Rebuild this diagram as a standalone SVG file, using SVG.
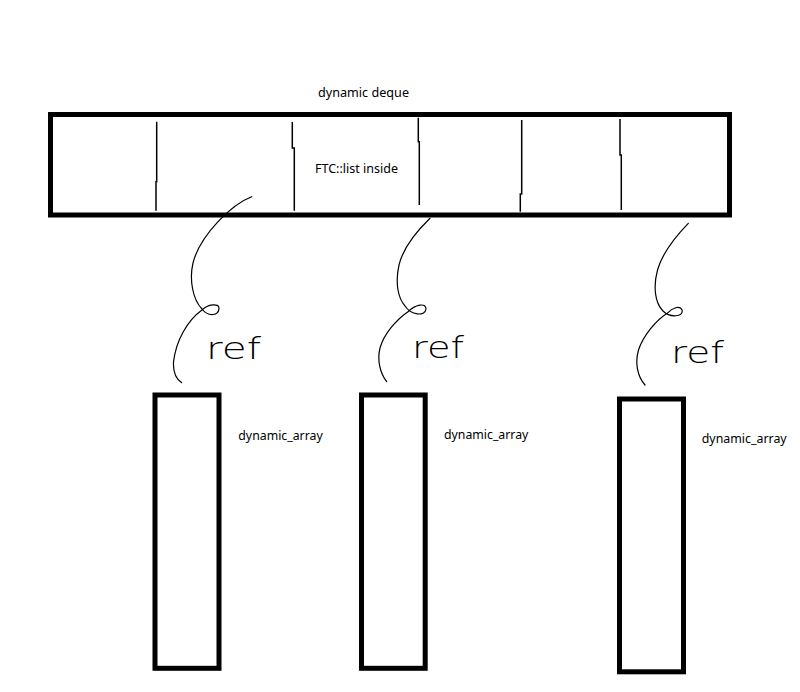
<svg xmlns="http://www.w3.org/2000/svg" width="800" height="692" viewBox="0 0 800 692">
<style>
.box{fill:none;stroke:#000;stroke-width:5}
.div{fill:none;stroke:#000;stroke-width:1.5}
.cur{fill:none;stroke:#000;stroke-width:1.2;stroke-linecap:round;stroke-linejoin:round}
.lbl{font-family:"Noto Sans","Liberation Sans",sans-serif;font-size:12px;fill:#000}
.ref{font-family:"DejaVu Sans",sans-serif;font-weight:200;font-size:30px;fill:#000}
</style>
<rect width="800" height="692" fill="#fff"/>
<g id="deque">
<rect class="box" x="50.5" y="114.5" width="679" height="100.5"/>
<path class="div" d="M156.7,121.7 V181.7 H156 V210.7"/>
<path class="div" d="M292.3,122 V148 H294.3 V210.7"/>
<path class="div" d="M418.3,117.7 V141.7 H419.3 V205"/>
<path class="div" d="M521.7,120 V194 H520.3 V211.7"/>
<path class="div" d="M620,119 V155 H621.3 V210"/>
<text class="lbl" x="318" y="97" textLength="91" lengthAdjust="spacingAndGlyphs">dynamic deque</text>
<text class="lbl" x="315" y="172.7" textLength="83" lengthAdjust="spacingAndGlyphs">FTC::list inside</text>
</g>
<g id="array1">
<rect class="box" x="155" y="395" width="64" height="273.3"/>
<text class="lbl" x="238.3" y="440" textLength="84.4" lengthAdjust="spacingAndGlyphs">dynamic_array</text>
</g>
<g id="array2">
<rect class="box" x="361.5" y="395" width="63.7" height="273.3"/>
<text class="lbl" x="444" y="439.3" textLength="84.3" lengthAdjust="spacingAndGlyphs">dynamic_array</text>
</g>
<g id="array3">
<rect class="box" x="619.5" y="399" width="64" height="272.8"/>
<text class="lbl" x="701.7" y="443" textLength="85" lengthAdjust="spacingAndGlyphs">dynamic_array</text>
</g>
<g id="connectors">
<path class="cur" d="M251.7,196.7 C232,204 200,235 193,263 C189,280 193,300 202,309 C208,317 219,316 219,308 C219,303 208,304 202,310 C188,320 176,340 173.5,362 C173,372 176,379 181.7,382.7"/>
<path class="cur" d="M430,218.3 C418,230 403,248 399,265 C395,283 398,298 405,306 C411,315 425,317 426,309 C426,302 415,305 408,311.7 C396,320 384,334 380,348 C377,360 380,373 386.7,381.7"/>
<path class="cur" d="M688.3,223.3 C676,236 662,254 657.5,270 C653,287 655,303 663,311 C670,318 684,317 682,310 C680,305 672,308 668,312.7 C656,320 643,336 638.5,350 C635,362 637,376 645,385"/>
<text class="ref" x="206" y="359" textLength="55" lengthAdjust="spacingAndGlyphs">ref</text>
<text class="ref" x="412" y="358" textLength="52" lengthAdjust="spacingAndGlyphs">ref</text>
<text class="ref" x="671" y="363" textLength="53" lengthAdjust="spacingAndGlyphs">ref</text>
</g>
</svg>
